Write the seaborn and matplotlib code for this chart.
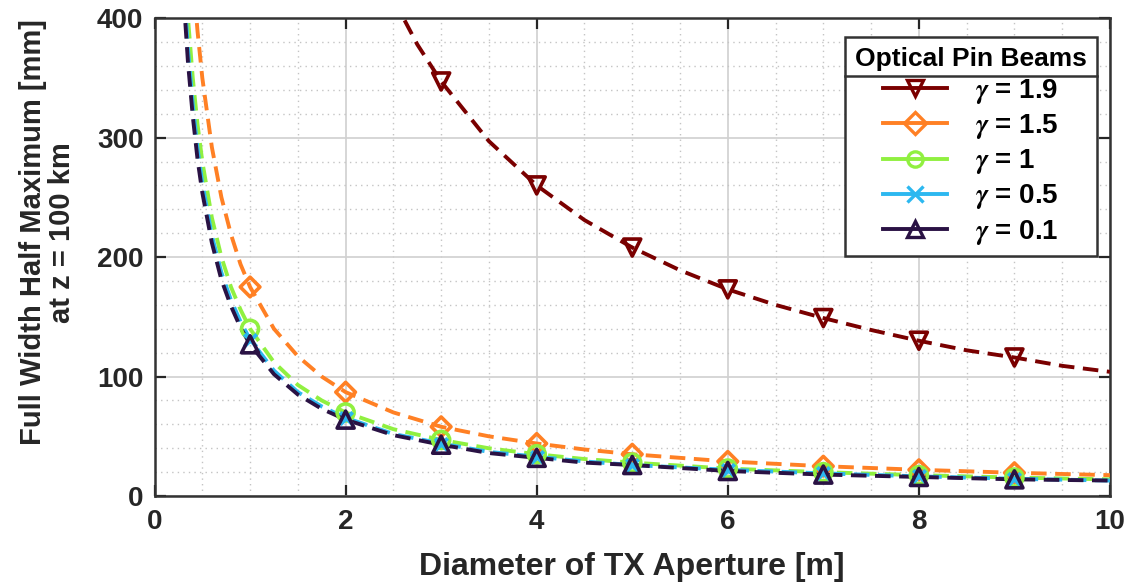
import matplotlib
matplotlib.use('Agg')
import matplotlib.pyplot as plt
import seaborn as sns
import pandas as pd
from matplotlib.lines import Line2D
from matplotlib.ticker import MultipleLocator

# aperture diameter [m]
d_small = [0.3, 0.35, 0.4, 0.45, 0.5, 0.6, 0.7, 0.8, 0.9, 1.0, 1.25, 1.5, 1.75,
           2.0, 2.5, 3.0, 3.5, 4.0, 4.5, 5.0, 6.0, 7.0, 8.0, 9.0, 10.0]
d_big = [2.5, 2.75, 3.0, 3.5, 4.0, 4.5, 5.0, 5.5, 6.0, 6.5, 7.0, 7.5, 8.0,
         8.5, 9.0, 9.5, 10.0]

# FWHM at z = 100 km [mm]
fwhm_g01 = [423, 363, 318, 282, 254, 212, 181, 159, 141, 127, 102, 85, 73,
            64, 51, 43, 36, 32, 28, 26, 21, 18, 16, 14, 13]
fwhm_g05 = [437, 374, 328, 291, 262, 218, 187, 164, 146, 131, 105, 87, 75,
            65.5, 52, 44, 37, 33, 29, 26, 22, 19, 16.5, 14.5, 13]
fwhm_g1 = [467, 400, 350, 311, 280, 233, 200, 175, 156, 140, 112, 93, 80,
           70, 56, 47, 40, 35, 31, 28, 23, 20, 17.5, 15.5, 14]
fwhm_g15 = [583, 500, 437, 389, 350, 292, 250, 219, 194, 175, 140, 117, 100,
            87, 70, 58, 50, 44, 39, 35, 29, 25, 22, 19.5, 17.5]
fwhm_g19 = [416, 378, 347, 297, 260, 231, 208, 189, 173, 160, 149, 139, 130,
            122, 116, 109, 104]

series = [
    ('1.9', d_big, fwhm_g19, '#7a0000', 'v'),
    ('1.5', d_small, fwhm_g15, '#ff8024', 'D'),
    ('1', d_small, fwhm_g1, '#90f040', 'o'),
    ('0.5', d_small, fwhm_g05, '#2cb8f0', 'x'),
    ('0.1', d_small, fwhm_g01, '#2a1244', '^'),
]

plt.rcParams['font.family'] = ['Liberation Sans', 'DejaVu Sans']
plt.rcParams['font.weight'] = 'bold'
plt.rcParams['mathtext.fontset'] = 'stix'

fig = plt.figure(figsize=(11.28, 5.85), dpi=100)
ax = fig.add_axes([0.137, 0.152, 0.847, 0.817])

handles = []
for gamma, d, y, color, mk in series:
    df = pd.DataFrame({'D': d, 'FWHM': y})
    sns.lineplot(x='D', y='FWHM', data=df, ax=ax, color=color, linewidth=2.8,
                 linestyle=(0, (4, 2.2)), zorder=3)
    # markers only at whole metres, 1..9
    pts = df[(df['D'] % 1 == 0) & (df['D'] < 10)]
    ms = 150 if mk != 'D' else 100
    if mk == 'x':
        sns.scatterplot(x='D', y='FWHM', data=pts, ax=ax, marker='x', color=color,
                        s=80, linewidth=2.8, zorder=4)
    else:
        sns.scatterplot(x='D', y='FWHM', data=pts, ax=ax, marker=mk, s=ms,
                        facecolor='none', edgecolor=color, linewidth=2.6, zorder=4)
    handles.append(Line2D([0], [0], color=color, linewidth=2.8, marker=mk,
                          markersize=11, markerfacecolor='none',
                          markeredgecolor=color, markeredgewidth=2.4,
                          label=r'$\gamma$ = ' + gamma))

ax.set_xlim(0, 10)
ax.set_ylim(0, 400)
ax.xaxis.set_major_locator(MultipleLocator(2))
ax.xaxis.set_minor_locator(MultipleLocator(0.5))
ax.yaxis.set_major_locator(MultipleLocator(100))
ax.yaxis.set_minor_locator(MultipleLocator(20))
ax.grid(which='major', color='#d0d0d0', linewidth=1.2)
ax.grid(which='minor', color='#c4c4c4', linewidth=1.0, linestyle=(0, (1, 3)))
ax.set_axisbelow(True)
ax.tick_params(which='both', direction='in', top=True, right=True, width=1.6,
               colors='#262626', labelsize=20)
ax.tick_params(axis='x', which='major', pad=9)
ax.tick_params(axis='y', which='major', pad=8)
ax.tick_params(which='major', length=8)
ax.tick_params(which='minor', length=0)
for lab in ax.get_xticklabels() + ax.get_yticklabels():
    lab.set_fontweight('bold')
for s in ax.spines.values():
    s.set_linewidth(1.8)
    s.set_color('#333333')

ax.set_xlabel('Diameter of TX Aperture [m]', fontsize=23, fontweight='bold',
              color='#262626', va='center')
ax.set_ylabel('Full Width Half Maximum [mm]\nat z = 100 km', fontsize=21,
              fontweight='bold', color='#262626', linespacing=1.05, va='center')
ax.xaxis.set_label_coords(0.5, -0.148)
ax.yaxis.set_label_coords(-0.112, 0.552)

leg = ax.legend(handles=handles, loc='upper right', bbox_to_anchor=(0.986, 0.96),
                borderaxespad=0, title='Optical Pin Beams', fontsize=20,
                handlelength=2.3, handletextpad=1.0, fancybox=False,
                edgecolor='#333333', framealpha=1, borderpad=0.35,
                labelspacing=0.22)
leg.get_title().set_fontsize(19)
leg.get_title().set_fontweight('bold')
leg.get_frame().set_linewidth(1.8)
for t in leg.get_texts():
    t.set_fontweight('bold')

fig.canvas.draw()
fr = leg.get_frame().get_window_extent()
tb = leg.get_title().get_window_extent()
inv = fig.transFigure.inverted()
x0, y_sep = inv.transform((fr.x0, tb.y0 - 5))
x1, _ = inv.transform((fr.x1, tb.y0 - 5))
fig.add_artist(Line2D([x0, x1], [y_sep, y_sep], color='#333333', linewidth=1.8,
                      transform=fig.transFigure, zorder=10))

fig.savefig('out.png', dpi=100)
